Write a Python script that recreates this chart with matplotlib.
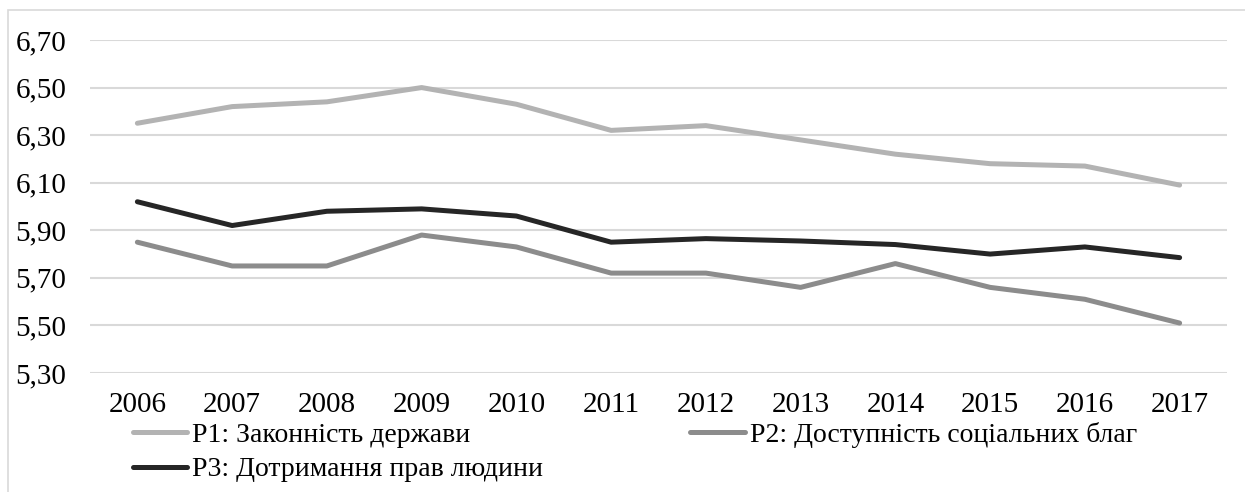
import matplotlib.pyplot as plt
from matplotlib.ticker import FuncFormatter
from matplotlib.patches import Rectangle

years = ['2006', '2007', '2008', '2009', '2010', '2011',
         '2012', '2013', '2014', '2015', '2016', '2017']
p1 = [6.35, 6.42, 6.44, 6.50, 6.43, 6.32, 6.34, 6.28, 6.22, 6.18, 6.17, 6.09]
p2 = [5.85, 5.75, 5.75, 5.88, 5.83, 5.72, 5.72, 5.66, 5.76, 5.66, 5.61, 5.51]
p3 = [6.02, 5.92, 5.98, 5.99, 5.96, 5.85, 5.865, 5.855, 5.84, 5.80, 5.83, 5.785]
y_ticks = [5.30, 5.50, 5.70, 5.90, 6.10, 6.30, 6.50, 6.70]
labels = ['P1: Законність держави',
          'P2: Доступність соціальних благ',
          'P3: Дотримання прав людини']
colors = ['#b3b3b3', '#8c8c8c', '#262626']

plt.rcParams['font.family'] = ['Liberation Serif', 'DejaVu Serif']
font = dict(family=['Liberation Serif', 'DejaVu Serif'], size=20)

fig = plt.figure(figsize=(12.45, 4.92), dpi=100)
ax = fig.add_axes([90 / 1245, 1 - 373 / 492, (1227 - 90) / 1245, (373 - 40) / 492])

x = range(len(years))
lines = []
for vals, lab, col in zip([p1, p2, p3], labels, colors):
    ln, = ax.plot(x, vals, color=col, lw=3.6, label=lab, solid_capstyle='round')
    lines.append(ln)

ax.set_xlim(-0.5, len(years) - 0.5)
ax.set_ylim(5.30, 6.70)
ax.set_yticks(y_ticks)
ax.yaxis.set_major_formatter(FuncFormatter(lambda v, p: f'{v:.2f}'.replace('.', ',')))
ax.set_xticks(list(x))
ax.set_xticklabels(years)
ax.tick_params(length=0, labelsize=21)
ax.tick_params(axis='x', pad=14)
ax.tick_params(axis='y', pad=17)
ax.grid(axis='y', color='#d9d9d9', lw=1.5)
ax.set_axisbelow(True)
for s in ax.spines.values():
    s.set_visible(False)

# outer frame
fig.patches.append(Rectangle((8 / 1245, -0.1), 1.2, 1 - 10 / 492 + 0.1,
                             transform=fig.transFigure, fill=False,
                             edgecolor='#d9d9d9', lw=1.2))

fig.legend([lines[0], lines[2], lines[1]],
           [labels[0], labels[2], labels[1]],
           ncol=2, loc='upper left', bbox_to_anchor=(133 / 1245, 1 - 422 / 492),
           frameon=False, prop=font, handlelength=1.95, handletextpad=0.18,
           columnspacing=5.3, labelspacing=0.32, borderaxespad=0, borderpad=0)

fig.savefig('out.png', dpi=100)
